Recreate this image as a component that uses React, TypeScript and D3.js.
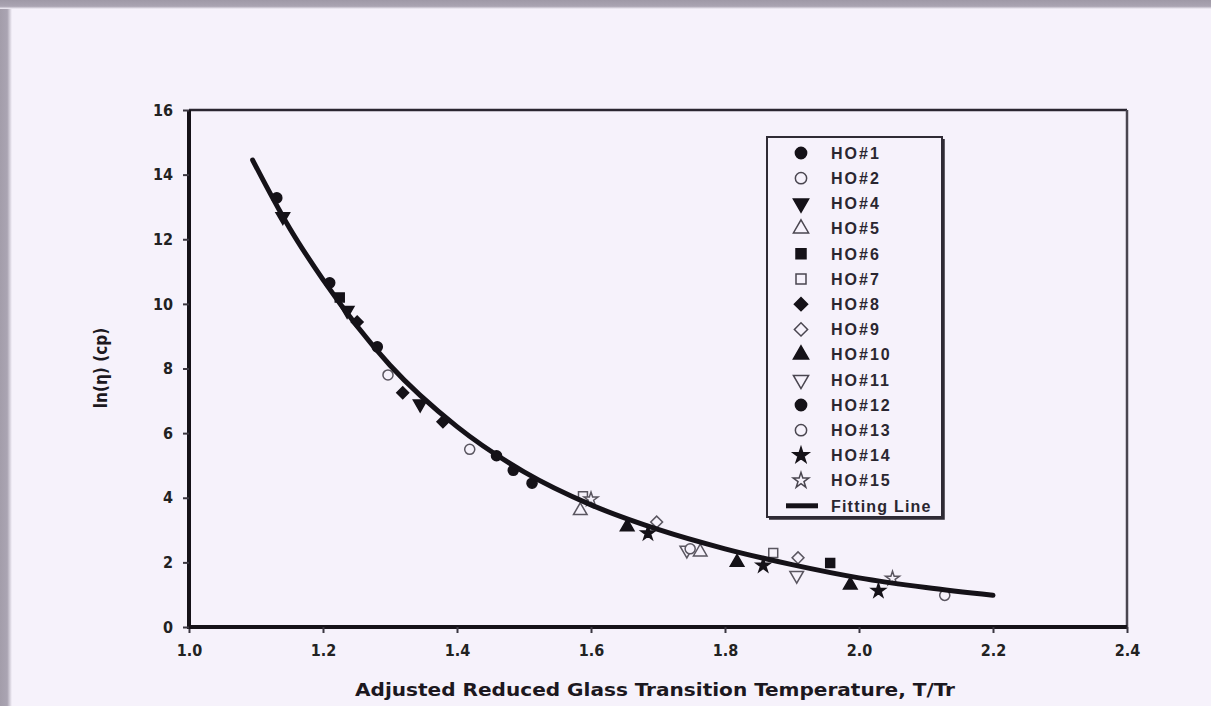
import React, {useEffect, useRef} from 'react'
import * as d3 from 'd3'

const W = 1211
const H = 706
const plot = {left: 189, right: 1127, top: 110, bottom: 627}
const font = '"Liberation Sans", Arial, sans-serif'
const narrow = '"Liberation Sans Narrow", "DejaVu Sans Condensed", "Liberation Sans", Arial, sans-serif'
const bg = '#f6f2fb'
const ink = '#151218'

const xTicks = [1.0, 1.2, 1.4, 1.6, 1.8, 2.0, 2.2, 2.4]
const yTicks = [0, 2, 4, 6, 8, 10, 12, 14, 16]

// fitting line
const fitTr = [1.095, 1.1, 1.15, 1.2, 1.3, 1.4, 1.5, 1.6, 1.7, 1.8, 1.9, 2.0, 2.1, 2.2]
const fitLnVisc = [14.45, 14.25, 12.35, 10.75, 8.1, 6.2, 4.8, 3.78, 3.02, 2.42, 1.93, 1.52, 1.22, 0.98]

const seriesNames = ['HO#1', 'HO#2', 'HO#4', 'HO#5', 'HO#6', 'HO#7', 'HO#8', 'HO#9', 'HO#10', 'HO#11', 'HO#12', 'HO#13', 'HO#14', 'HO#15']
const seriesShapes = ['circle', 'circle', 'down', 'up', 'square', 'square', 'diamond', 'diamond', 'up', 'down', 'circle', 'circle', 'star', 'star']
const seriesFilled = [true, false, true, false, true, false, true, false, true, false, true, false, true, false]

const seriesTr = [
  [1.131, 1.21, 1.281],
  [1.297, 1.419],
  [1.14, 1.236, 1.345],
  [1.584, 1.763],
  [1.225, 1.957],
  [1.588, 1.872],
  [1.251, 1.319, 1.379],
  [1.698, 1.909],
  [1.654, 1.818, 1.987],
  [1.743, 1.907],
  [1.459, 1.484, 1.512],
  [1.748, 2.128],
  [1.685, 1.857, 2.029],
  [1.6, 2.05],
]
const seriesLnVisc = [
  [13.28, 10.65, 8.67],
  [7.8, 5.5],
  [12.7, 9.8, 6.9],
  [3.6, 2.32],
  [10.2, 1.98],
  [4.05, 2.29],
  [9.44, 7.25, 6.35],
  [3.25, 2.14],
  [3.1, 2.0, 1.3],
  [2.38, 1.6],
  [5.3, 4.85, 4.45],
  [2.42, 0.98],
  [2.9, 1.9, 1.12],
  [3.95, 1.5],
]

function symbolPath(shape: string, scale: number) {
  const type = shape === 'circle' ? d3.symbolCircle
    : shape === 'square' || shape === 'diamond' ? d3.symbolSquare
    : shape === 'star' ? d3.symbolStar
    : d3.symbolTriangle
  const size = shape === 'diamond' ? 70 : shape === 'star' ? 60 : 80
  return d3.symbol().type(type).size(size * scale)() as string
}
function symbolRotate(shape: string) {
  if (shape === 'down') return 180
  if (shape === 'diamond') return 45
  return 0
}

export default function App() {
  const ref = useRef<SVGSVGElement>(null)

  useEffect(() => {
    const svg = d3.select(ref.current)
    svg.selectAll('*').remove()

    const x = d3.scaleLinear().domain([1.0, 2.4]).range([plot.left, plot.right])
    const y = d3.scaleLinear().domain([0, 16]).range([plot.bottom, plot.top])

    // background + grey frame of the photo
    svg.append('rect').attr('width', W).attr('height', H).attr('fill', bg)
    const defs = svg.append('defs')
    const gl = defs.append('linearGradient').attr('id', 'edgeL')
    gl.append('stop').attr('offset', '0%').attr('stop-color', '#a39daa')
    gl.append('stop').attr('offset', '60%').attr('stop-color', '#aaa4b2')
    gl.append('stop').attr('offset', '100%').attr('stop-color', bg)
    const gt = defs.append('linearGradient').attr('id', 'edgeT').attr('x2', 0).attr('y2', 1)
    gt.append('stop').attr('offset', '0%').attr('stop-color', '#9f99a7')
    gt.append('stop').attr('offset', '70%').attr('stop-color', '#aaa4b2')
    gt.append('stop').attr('offset', '100%').attr('stop-color', bg)
    svg.append('rect').attr('width', 12).attr('height', H).attr('fill', 'url(#edgeL)')
    svg.append('rect').attr('width', W).attr('height', 9).attr('fill', 'url(#edgeT)')

    // frame: thin top/right, heavy left/bottom
    svg.append('line').attr('x1', plot.left).attr('x2', plot.right).attr('y1', plot.top).attr('y2', plot.top)
      .attr('stroke', '#2a2630').attr('stroke-width', 2.5)
    svg.append('line').attr('x1', plot.right).attr('x2', plot.right).attr('y1', plot.top).attr('y2', plot.bottom)
      .attr('stroke', '#4a4650').attr('stroke-width', 2.5)

    const xAxis = svg.append('g').attr('transform', `translate(0,${plot.bottom})`)
      .call(d3.axisBottom(x).tickValues(xTicks).tickSize(6).tickPadding(12).tickFormat(d3.format('.1f') as any))
    const yAxis = svg.append('g').attr('transform', `translate(${plot.left},0)`)
      .call(d3.axisLeft(y).tickValues(yTicks).tickSize(6).tickPadding(10).tickFormat(d3.format('d') as any))
    ;[xAxis, yAxis].forEach(a => {
      a.select('.domain').attr('stroke', ink).attr('stroke-width', 4)
      a.selectAll('.tick line').attr('stroke', '#3a3640').attr('stroke-width', 2)
      a.selectAll('.tick text').attr('fill', '#222').attr('font-family', narrow)
        .attr('font-size', 16).attr('font-weight', 'bold')
    })
    yAxis.select('.domain').attr('d', `M0,${plot.bottom + 2}V${plot.top}`)
    xAxis.select('.domain').attr('d', `M${plot.left - 2},0H${plot.right}`)

    // markers
    seriesNames.forEach((name, i) => {
      const pts = seriesTr[i].map((t, j) => [t, seriesLnVisc[i][j]])
      svg.append('g').selectAll('path').data(pts).join('path')
        .attr('d', symbolPath(seriesShapes[i], 1))
        .attr('transform', d => `translate(${x(d[0])},${y(d[1])}) rotate(${symbolRotate(seriesShapes[i])})`)
        .attr('fill', seriesFilled[i] ? ink : bg)
        .attr('stroke', seriesFilled[i] ? ink : '#5a5660')
        .attr('stroke-width', 1.5)
    })

    // fitting line
    const line = d3.line<number>().x(d => x(fitTr[d])).y(d => y(fitLnVisc[d])).curve(d3.curveMonotoneX)
    svg.append('path').attr('d', line(d3.range(fitTr.length)))
      .attr('fill', 'none').attr('stroke', ink).attr('stroke-width', 5).attr('stroke-linecap', 'round')

    // legend
    const lg = svg.append('g')
    const box = {x: 767, y: 137, w: 175, h: 380}
    defs.append('clipPath').attr('id', 'legClip').append('rect')
      .attr('x', box.x).attr('y', box.y).attr('width', box.w).attr('height', box.h)
    lg.append('rect').attr('x', box.x).attr('y', box.y).attr('width', box.w).attr('height', box.h)
      .attr('fill', bg).attr('stroke', '#2f2b35').attr('stroke-width', 2)
    const rowY = (i: number) => 153 + i * 25.2
    const items = lg.append('g').attr('clip-path', 'url(#legClip)')
    seriesNames.forEach((name, i) => {
      items.append('path').attr('d', symbolPath(seriesShapes[i], 1.25))
        .attr('transform', `translate(801,${rowY(i)}) rotate(${symbolRotate(seriesShapes[i])})`)
        .attr('fill', seriesFilled[i] ? ink : bg)
        .attr('stroke', seriesFilled[i] ? ink : '#4a4650').attr('stroke-width', 1.5)
      items.append('text').attr('x', 831).attr('y', rowY(i)).attr('dy', '0.36em')
        .attr('font-family', font).attr('font-size', 16).attr('font-weight', 'bold')
        .attr('letter-spacing', 2).attr('fill', '#2a2630').text(name)
    })
    const fy = rowY(seriesNames.length)
    items.append('line').attr('x1', 786).attr('x2', 818).attr('y1', fy).attr('y2', fy)
      .attr('stroke', ink).attr('stroke-width', 5)
    items.append('text').attr('x', 831).attr('y', fy).attr('dy', '0.36em')
      .attr('font-family', font).attr('font-size', 16).attr('font-weight', 'bold')
      .attr('letter-spacing', 1.2).attr('fill', '#2a2630').text('Fitting Line')
    lg.append('path').attr('d', `M${box.x + box.w + 1},${box.y + 2}V${box.y + box.h + 1}H${box.x + 2}`)
      .attr('fill', 'none').attr('stroke', '#2f2b35').attr('stroke-width', 3.5)

    // axis titles
    svg.append('text').attr('x', 655).attr('y', 696)
      .attr('text-anchor', 'middle').attr('font-family', narrow).attr('font-size', 18).attr('font-weight', 'bold')
      .attr('textLength', 600).attr('lengthAdjust', 'spacingAndGlyphs').attr('fill', '#1c1820')
      .text('Adjusted Reduced Glass Transition Temperature, T/Tr')
    svg.append('text').attr('transform', 'translate(107,368) rotate(-90)')
      .attr('text-anchor', 'middle').attr('font-family', narrow).attr('font-size', 17).attr('font-weight', 'bold')
      .attr('fill', '#1c1820').text('ln(η) (cp)')
  }, [])

  return (
    <svg ref={ref} width={W} height={H} style={{position: 'absolute', left: 0, top: 0}} />
  )
}
